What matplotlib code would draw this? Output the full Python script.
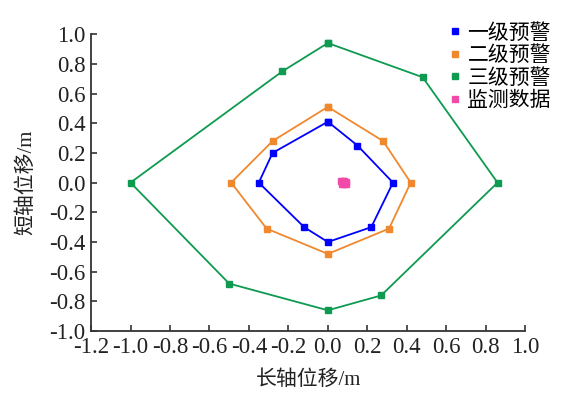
import matplotlib
matplotlib.use("Agg")
import matplotlib.pyplot as plt
from matplotlib.lines import Line2D

plt.rcParams["font.family"] = ["Liberation Serif", "Noto Sans CJK SC"]
plt.rcParams["axes.unicode_minus"] = False

# warning envelopes (long-axis x, short-axis y), closed polygons
lvl1_x = [0.0, 0.15, 0.33, 0.22, 0.0, -0.12, -0.35, -0.28, 0.0]
lvl1_y = [0.41, 0.25, 0.0, -0.30, -0.40, -0.30, 0.0, 0.20, 0.41]
lvl2_x = [0.0, 0.28, 0.42, 0.31, 0.0, -0.31, -0.49, -0.28, 0.0]
lvl2_y = [0.51, 0.28, 0.0, -0.31, -0.48, -0.31, 0.0, 0.28, 0.51]
lvl3_x = [0.0, 0.48, 0.86, 0.27, 0.0, -0.50, -1.0, -0.23, 0.0]
lvl3_y = [0.94, 0.71, 0.0, -0.76, -0.86, -0.68, 0.0, 0.75, 0.94]
mon_x = [0.068, 0.076, 0.084, 0.092, 0.070, 0.080, 0.090]
mon_y = [0.008, 0.010, 0.009, 0.007, -0.008, -0.009, -0.007]

labels = ["一级预警", "二级预警", "三级预警", "监测数据"]
colors = ["#0000ff", "#f0882e", "#0e9a50", "#f24aa9"]

fig = plt.figure(figsize=(5.69, 3.97), dpi=100)
ax = fig.add_axes([0.160, 0.166, 0.763, 0.748])

for xs, ys, c in [(lvl1_x, lvl1_y, colors[0]), (lvl2_x, lvl2_y, colors[1]), (lvl3_x, lvl3_y, colors[2])]:
    ax.plot(xs, ys, "-s", color=c, lw=1.3, markersize=4.5, clip_on=False)
ax.plot(mon_x, mon_y, "s", color=colors[3], markersize=5, linestyle="none")

ax.set_xlim(-1.2, 1.0)
ax.set_ylim(-1.0, 1.0)
ax.set_xticks([round(-1.2 + 0.2 * i, 1) for i in range(12)])
ax.set_yticks([round(-1.0 + 0.2 * i, 1) for i in range(11)])
ax.xaxis.set_major_formatter(matplotlib.ticker.FormatStrFormatter("%.1f"))
ax.yaxis.set_major_formatter(matplotlib.ticker.FormatStrFormatter("%.1f"))
ax.tick_params(direction="in", labelsize=16.5, length=4, width=1.2, colors="#333333",
               labelcolor="#222222", pad=4)
for s in ["top", "right"]:
    ax.spines[s].set_visible(False)
for s in ["left", "bottom"]:
    ax.spines[s].set_linewidth(1.3)
    ax.spines[s].set_color("#333333")

ax.set_xlabel("长轴位移/m", fontsize=15, labelpad=9, color="#222222")
ax.set_ylabel("短轴位移/m", fontsize=15, labelpad=9, color="#222222")

handles = [Line2D([], [], marker="s", linestyle="none", color=c, markersize=5) for c in colors]
ax.legend(handles, labels, loc="upper left", bbox_to_anchor=(0.795, 1.07), frameon=False,
          handletextpad=0.1, labelspacing=0.02, handlelength=1.0, borderaxespad=0,
          prop={"family": ["Noto Sans CJK SC"], "size": 15})

fig.savefig("out.png", dpi=100, facecolor="white")
